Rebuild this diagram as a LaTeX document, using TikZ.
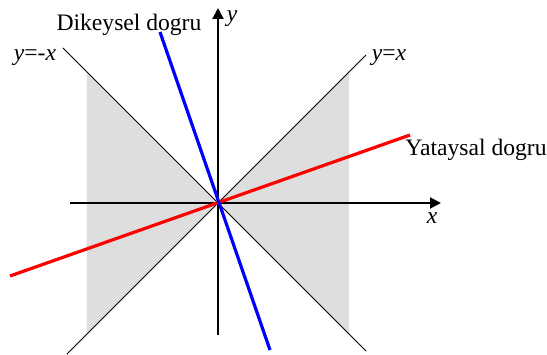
\documentclass[tikz,border=0pt]{standalone}
\usepackage{fontspec}
\setmainfont{Liberation Serif}
\usetikzlibrary{arrows.meta,positioning}

\begin{document}
\begin{tikzpicture}[
    x=0.5pt, y=0.5pt,
    font=\fontsize{11.8}{14}\selectfont,
    axis/.style={line width=1pt, -{Triangle[length=5.5pt,width=5.5pt]}},
    diag/.style={line width=0.5pt},
    cone/.style={fill=black!13},
    vline/.style={blue, line width=1.6pt},
    hline/.style={red, line width=1.6pt},
    lbl/.style={anchor=base, inner sep=0pt}
]
    \useasboundingbox (-218,-151) rectangle (329,203);
    \coordinate (O) at (0,0);

    % shaded regions
    \fill[cone] (O) -- (-131,131) -- (-131,-131) -- cycle;
    \fill[cone] (O) -- (131,131) -- (131,-131) -- cycle;

    % diagonals
    \coordinate (d1a) at (-151,-151);
    \coordinate (d1b) at (148,148);
    \coordinate (d2a) at (-155,155);
    \coordinate (d2b) at (148,-148);
    \draw[diag] (d1a) -- (d1b);
    \draw[diag] (d2a) -- (d2b);

    % axes
    \coordinate (xl) at (-148,0);
    \coordinate (xr) at (223,0);
    \coordinate (yb) at (0,-132);
    \coordinate (yt) at (0,195);
    \draw[axis] (xl) -- (xr);
    \draw[axis] (yb) -- (yt);

    % lines through the origin
    \coordinate (ha) at (-208,-73);
    \coordinate (hb) at (192,68);
    \coordinate (va) at (-58,171);
    \coordinate (vb) at (52,-147);
    \draw[hline] (ha) -- (hb);
    \draw[vline] (va) -- (vb);

    % labels
    \node[lbl] (xlab) at (214,-20) {\textit{x}};
    \node[lbl] (ylab) at (14,182) {\textit{y}};
    \node[lbl] (d1lab) at (171,142) {\textit{y}=\textit{x}};
    \node[lbl] (d2lab) at (-183,142) {\textit{y}=-\textit{x}};
    \node[lbl] (vlab) at (-89,172) {Dikeysel dogru};
    \node[lbl] (hlab) at (258,47) {Yataysal dogru};
\end{tikzpicture}
\end{document}
